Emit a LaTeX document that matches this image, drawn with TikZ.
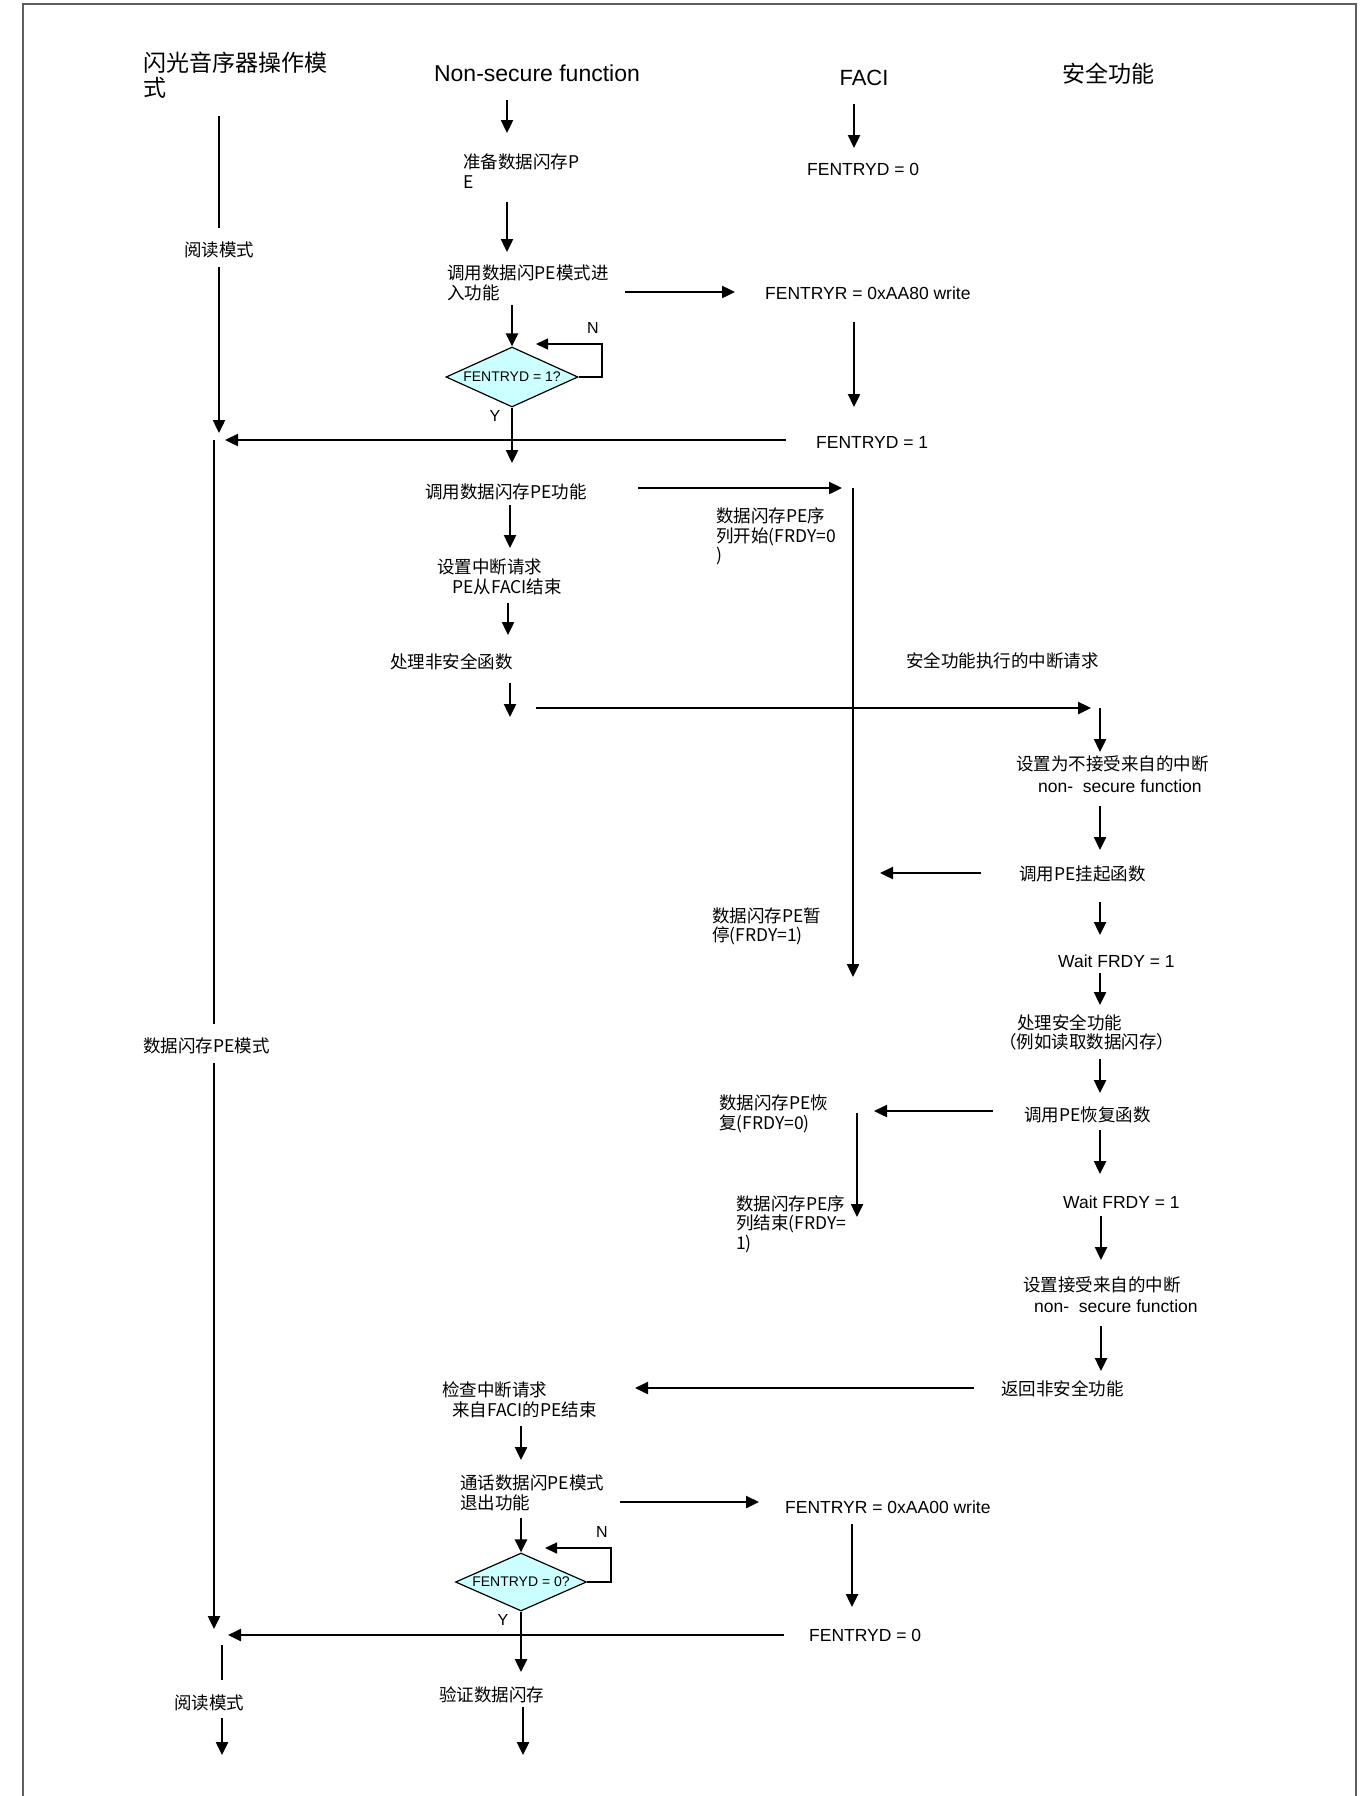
\documentclass[tikz,border=0pt]{standalone}
\usepackage{fontspec}
\setmainfont{Liberation Sans}
\newfontfamily\zhfont{Noto Sans CJK SC}
\usetikzlibrary{arrows.meta,shapes.geometric}
\definecolor{decfill}{RGB}{204,255,255}
\definecolor{framegray}{RGB}{95,95,95}
\begin{document}
\begin{tikzpicture}[x=1pt,y=-1pt,
  zh/.style={font=\zhfont\fontsize{17.5}{19.5}\selectfont, inner sep=0pt, align=left},
  en/.style={font=\fontsize{17.5}{19.5}\selectfont, inner sep=0pt},
  head/.style={font=\zhfont\fontsize{23}{25}\selectfont, inner sep=0pt, align=left},
  ehead/.style={font=\fontsize{23}{25}\selectfont, inner sep=0pt},
  yn/.style={font=\fontsize{16}{18}\selectfont, inner sep=0pt},
  flow/.style={line width=2.4pt, -{Triangle[length=13pt,width=12pt]}},
  bar/.style={line width=2.4pt},
  loopline/.style={line width=1.5pt, -{Triangle[length=12pt,width=11pt]}},
  dec/.style={diamond, aspect=2.2, draw, line width=1.2pt, fill=decfill, inner sep=0pt,
    font=\fontsize{14}{16}\selectfont},
  framel/.style={draw=framegray, line width=2pt}
]
\useasboundingbox (0,0) rectangle (1367,1796);
\draw[framel] (23,1796) -- (23,4) -- (1356,4) -- (1356,1796);

% ---------- headings ----------
\node[head, anchor=north west] (h1) at (143,51.5) {闪光音序器操作模\\式};
\node[ehead] (h2) at (537,73) {Non-secure function};
\node[ehead, font=\fontsize{22}{24}\selectfont] (h3) at (864,78) {FACI};
\node[head, anchor=west] (h4) at (1062,74) {安全功能};

% ---------- left column ----------
\node[zh] (rm1) at (219,250) {阅读模式};
\node[zh, anchor=west] (pem) at (143,1046) {数据闪存PE模式};
\node[zh, anchor=west] (rm2) at (174,1703) {阅读模式};

% ---------- non-secure column ----------
\node[zh, anchor=north west] (n1) at (463,154) {准备数据闪存P\\E};
\node[zh, anchor=north west] (n2) at (447,265) {调用数据闪PE模式进\\入功能};
\node[dec, minimum width=132pt, minimum height=60pt] (d1) at (512,377) {FENTRYD = 1?};
\node[yn] (nN1) at (593,328) {N};
\node[yn] (nY1) at (495,416) {Y};
\node[zh, anchor=west] (n3) at (425,492) {调用数据闪存PE功能};
\node[zh, anchor=north west, font=\zhfont\fontsize{17.5}{20}\selectfont] (n4) at (437,559) {设置中断请求\\\hspace*{15pt}PE从FACI结束};
\node[zh, anchor=west] (n5) at (390,662) {处理非安全函数};
\node[zh, anchor=north west, font=\zhfont\fontsize{17.5}{20}\selectfont] (n6) at (442,1381) {检查中断请求\\\hspace*{10pt}来自FACI的PE结束};
\node[zh, anchor=north west] (n7) at (460,1475) {通话数据闪PE模式\\退出功能};
\node[dec, minimum width=131pt, minimum height=58pt] (d2) at (521,1582) {FENTRYD = 0?};
\node[yn] (nN2) at (602,1532) {N};
\node[yn] (nY2) at (503,1620) {Y};
\node[zh, anchor=west] (n8) at (439,1695) {验证数据闪存};

% ---------- FACI column ----------
\node[en, anchor=west] (f1) at (807,169) {FENTRYD = 0};
\node[en, anchor=west] (f2) at (765,293) {FENTRYR = 0xAA80 write};
\node[en, anchor=west] (f3) at (816,442) {FENTRYD = 1};
\node[zh, anchor=north west] (f4) at (716,508) {数据闪存PE序\\列开始(FRDY=0\\)};
\node[zh, anchor=north west, font=\zhfont\fontsize{17.5}{18.5}\selectfont] (f5) at (712,908) {数据闪存PE暂\\停(FRDY=1)};
\node[zh, anchor=north west] (f6) at (719,1095) {数据闪存PE恢\\复(FRDY=0)};
\node[zh, anchor=north west] (f7) at (736,1195) {数据闪存PE序\\列结束(FRDY=\\1)};
\node[en, anchor=west] (f8) at (785,1507) {FENTRYR = 0xAA00 write};
\node[en, anchor=west] (f9) at (809,1635) {FENTRYD = 0};

% ---------- secure column ----------
\node[zh, anchor=west] (s0) at (906,661) {安全功能执行的中断请求};
\node[zh, anchor=north west, font=\zhfont\fontsize{17.5}{22}\selectfont] (s1) at (1016,756) {设置为不接受来自的中断\\\hspace*{22pt}{\rmfamily non-\ \ secure function}};
\node[zh, anchor=west] (s2) at (1019,874) {调用PE挂起函数};
\node[en, anchor=west] (s3) at (1058,961) {Wait FRDY = 1};
\node[zh, anchor=north west, font=\zhfont\fontsize{17.5}{19}\selectfont] (s4) at (999,1014) {\hspace*{18pt}处理安全功能\\（例如读取数据闪存）};
\node[zh, anchor=west] (s5) at (1024,1115) {调用PE恢复函数};
\node[en, anchor=west] (s6) at (1063,1202) {Wait FRDY = 1};
\node[zh, anchor=north west, font=\zhfont\fontsize{17.5}{21}\selectfont] (s7) at (1023,1277) {设置接受来自的中断\\\hspace*{11pt}{\rmfamily non-\ \ secure function}};
\node[zh, anchor=west] (s8) at (1001,1389) {返回非安全功能};

% ---------- coordinates ----------
% left column
\coordinate (L1a) at (219,116);  \coordinate (L1b) at (219,228);
\coordinate (L2a) at (219,267);  \coordinate (L2b) at (219,433);
\coordinate (L3a) at (214,440);  \coordinate (L3b) at (214,1024);
\coordinate (L4a) at (214,1063); \coordinate (L4b) at (214,1629);
\coordinate (L5a) at (222,1645); \coordinate (L5b) at (222,1680);
\coordinate (L6a) at (222,1718); \coordinate (L6b) at (222,1755);
\coordinate (R1a) at (786,440);  \coordinate (R1b) at (225,440);
\coordinate (R2a) at (784,1635); \coordinate (R2b) at (228,1635);
% non-secure column
\coordinate (N1a) at (507,100);  \coordinate (N1b) at (507,133);
\coordinate (N2a) at (507,202);  \coordinate (N2b) at (507,252);
\coordinate (N3a) at (625,292);  \coordinate (N3b) at (735,292);
\coordinate (N4a) at (512,305);
\coordinate (K1a) at (602,344);  \coordinate (K1b) at (536,344);
\coordinate (N5b) at (512,463);
\coordinate (N6a) at (638,488);  \coordinate (N6b) at (842,488);
\coordinate (N7a) at (510,505);  \coordinate (N7b) at (510,548);
\coordinate (N8a) at (508,603);  \coordinate (N8b) at (508,635);
\coordinate (N9a) at (510,683);  \coordinate (N9b) at (510,717);
\coordinate (N10a) at (536,708); \coordinate (N10b) at (1091,708);
\coordinate (N11a) at (974,1388); \coordinate (N11b) at (635,1388);
\coordinate (N12a) at (521,1426); \coordinate (N12b) at (521,1460);
\coordinate (N13a) at (620,1502); \coordinate (N13b) at (759,1502);
\coordinate (N14a) at (521,1518);
\coordinate (K2a) at (611,1548);  \coordinate (K2b) at (545,1548);
\coordinate (N15b) at (521,1672);
\coordinate (N16a) at (523,1707); \coordinate (N16b) at (523,1755);
% FACI column
\coordinate (F1a) at (854,104);  \coordinate (F1b) at (854,148);
\coordinate (F2a) at (854,322);  \coordinate (F2b) at (854,407);
\coordinate (F3a) at (853,488);  \coordinate (F3b) at (853,977);
\coordinate (F4a) at (857,1113); \coordinate (F4b) at (857,1217);
\coordinate (F5a) at (852,1524); \coordinate (F5b) at (852,1607);
% secure column
\coordinate (S1a) at (1100,708);  \coordinate (S1b) at (1100,752);
\coordinate (S2a) at (1100,806);  \coordinate (S2b) at (1100,850);
\coordinate (S3a) at (981,873);   \coordinate (S3b) at (880,873);
\coordinate (S4a) at (1100,902);  \coordinate (S4b) at (1100,935);
\coordinate (S5a) at (1100,973);  \coordinate (S5b) at (1100,1005);
\coordinate (S6a) at (1100,1059); \coordinate (S6b) at (1100,1093);
\coordinate (S7a) at (993,1111);  \coordinate (S7b) at (874,1111);
\coordinate (S8a) at (1100,1130); \coordinate (S8b) at (1100,1174);
\coordinate (S9a) at (1101,1216); \coordinate (S9b) at (1101,1260);
\coordinate (S10a) at (1101,1326); \coordinate (S10b) at (1101,1371);

% ---------- connectors ----------
\draw[bar] (L1a) -- (L1b);
\draw[flow] (L2a) -- (L2b);
\draw[bar] (L3a) -- (L3b);
\draw[flow] (L4a) -- (L4b);
\draw[bar] (L5a) -- (L5b);
\draw[flow] (L6a) -- (L6b);
\draw[flow] (R1a) -- (R1b);
\draw[flow] (R2a) -- (R2b);

\draw[flow] (N1a) -- (N1b);
\draw[flow] (N2a) -- (N2b);
\draw[flow] (N3a) -- (N3b);
\draw[flow] (N4a) -- (d1.north);
\draw[loopline] (d1.east) -| (K1a) -- (K1b);
\draw[flow] (d1.south) -- (N5b);
\draw[flow] (N6a) -- (N6b);
\draw[flow] (N7a) -- (N7b);
\draw[flow] (N8a) -- (N8b);
\draw[flow] (N9a) -- (N9b);
\draw[flow] (N10a) -- (N10b);
\draw[flow] (N11a) -- (N11b);
\draw[flow] (N12a) -- (N12b);
\draw[flow] (N13a) -- (N13b);
\draw[flow] (N14a) -- (d2.north);
\draw[loopline] (d2.east) -| (K2a) -- (K2b);
\draw[flow] (d2.south) -- (N15b);
\draw[flow] (N16a) -- (N16b);

\draw[flow] (F1a) -- (F1b);
\draw[flow] (F2a) -- (F2b);
\draw[flow] (F3a) -- (F3b);
\draw[flow] (F4a) -- (F4b);
\draw[flow] (F5a) -- (F5b);

\draw[flow] (S1a) -- (S1b);
\draw[flow] (S2a) -- (S2b);
\draw[flow] (S3a) -- (S3b);
\draw[flow] (S4a) -- (S4b);
\draw[flow] (S5a) -- (S5b);
\draw[flow] (S6a) -- (S6b);
\draw[flow] (S7a) -- (S7b);
\draw[flow] (S8a) -- (S8b);
\draw[flow] (S9a) -- (S9b);
\draw[flow] (S10a) -- (S10b);
\end{tikzpicture}
\end{document}
